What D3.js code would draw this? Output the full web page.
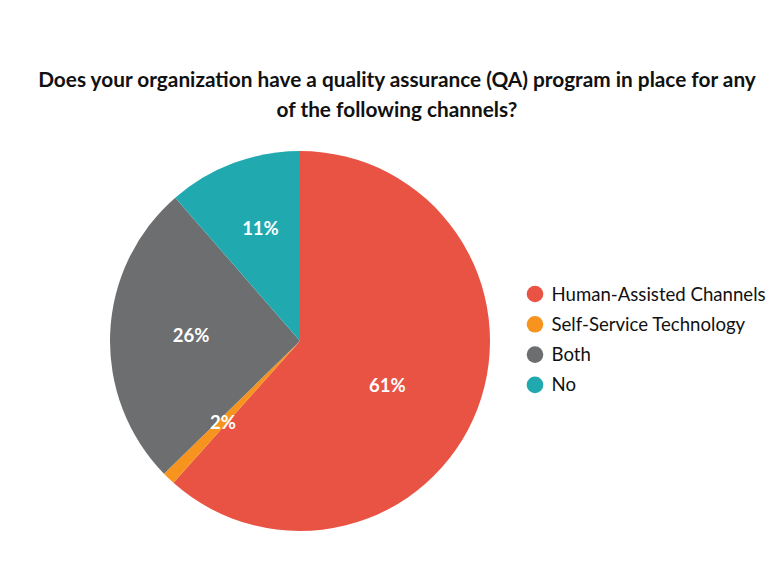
<!DOCTYPE html>
<html><head><meta charset="utf-8">
<script src="https://cdn.jsdelivr.net/npm/d3@7"></script>
<style>body{margin:0;background:#fff;}svg{display:block;}</style>
</head><body>
<svg id="c" width="783" height="585"></svg>
<script>
const categories = ["Human-Assisted Channels", "Self-Service Technology", "Both", "No"];
const values = [61.6, 1.1, 25.9, 11.4];
const labels = ["61%", "2%", "26%", "11%"];
const colors = ["#E95343", "#F7941E", "#6D6E70", "#20AAB0"];
const titleLines = ["Does your organization have a quality assurance (QA) program in place for any", "of the following channels?"];

const svg = d3.select("#c");
const font = "Lato, 'Open Sans', sans-serif";

svg.append("text").attr("x", 397).attr("y", 87).attr("text-anchor", "middle")
  .attr("font-family", font).attr("font-weight", 700).attr("font-size", 20.8).attr("fill", "#111")
  .selectAll("tspan").data(titleLines).join("tspan")
  .attr("x", 397).attr("dy", (d, i) => i ? 30 : 0).text(d => d);

const cx = 300, cy = 341, r = 190;
const pie = d3.pie().sort(null).value(d => d);
const arcs = pie(values);
const arc = d3.arc().innerRadius(0).outerRadius(r);
const g = svg.append("g").attr("transform", `translate(${cx},${cy})`);
g.selectAll("path").data(arcs).join("path").attr("d", arc).attr("fill", (d, i) => colors[i]);

const labelArc = d3.arc().innerRadius(0).outerRadius(220);
const labelArcRed = d3.arc().innerRadius(0).outerRadius(190);
const nudge = [[-1.5, 10.5], [-1, 2.5], [1, -1], [-1, -9]];
g.selectAll("text.lbl").data(arcs).join("text").attr("class", "lbl")
  .attr("transform", (d, i) => {
    const c = (i === 0 ? labelArcRed : labelArc).centroid(d);
    return `translate(${c[0] + nudge[i][0]},${c[1] + nudge[i][1]})`;
  })
  .attr("text-anchor", "middle").attr("dy", "0.35em")
  .attr("font-family", font).attr("font-weight", 700).attr("font-size", 18.5).attr("fill", "#fff")
  .text((d, i) => labels[i]);

const leg = svg.append("g").attr("transform", "translate(535,294)");
const rows = leg.selectAll("g").data(categories).join("g").attr("transform", (d, i) => `translate(0,${i * 30.3})`);
rows.append("circle").attr("r", 8.3).attr("fill", (d, i) => colors[i]);
rows.append("text").attr("x", 16.5).attr("dy", "0.35em")
  .attr("font-family", font).attr("font-size", 18.6).attr("fill", "#111").text(d => d);
</script>
</body></html>
